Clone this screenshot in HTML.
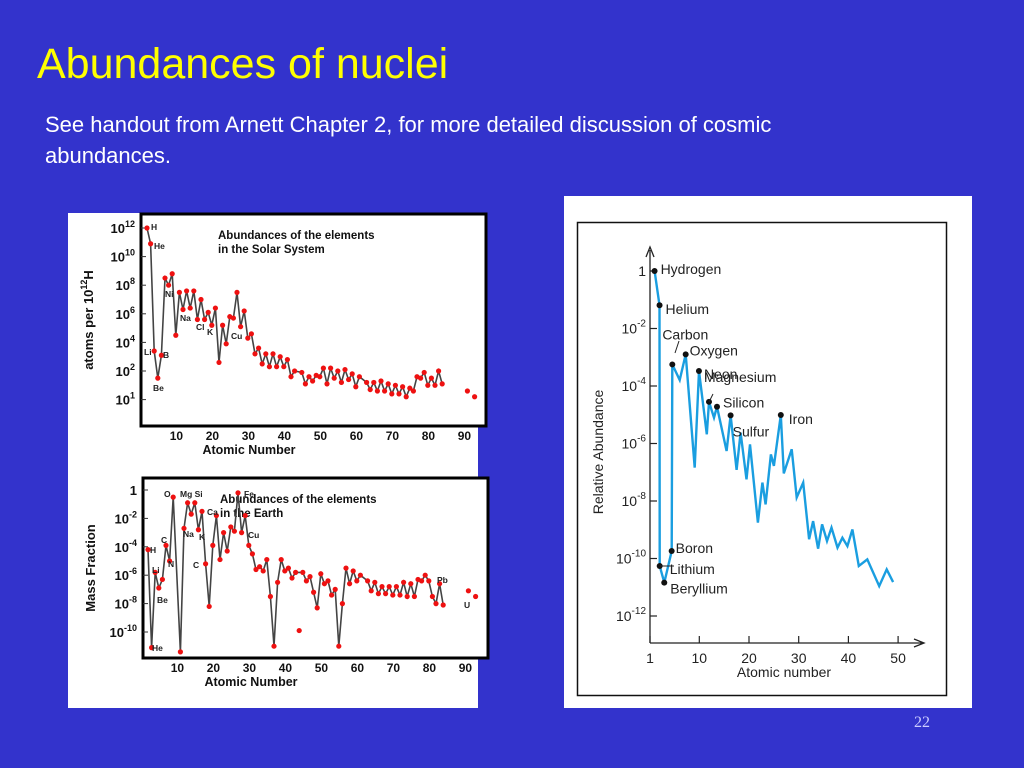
<!DOCTYPE html>
<html><head><meta charset="utf-8"><style>
html,body{margin:0;padding:0;background:#3333cc;}
svg{display:block;font-family:"Liberation Sans",sans-serif;}
</style></head><body>
<svg id="s" width="1024" height="768" viewBox="0 0 1024 768">
<rect width="1024" height="768" fill="#3333cc"/>
<text x="37" y="78" font-size="43" fill="#ffff00">Abundances of nuclei</text>
<text x="45" y="132" font-size="22" fill="#fff">See handout from Arnett Chapter 2, for more detailed discussion of cosmic</text>
<text x="45" y="163" font-size="22" fill="#fff">abundances.</text>
<text x="914" y="727" font-size="16" fill="#ccccff" font-family="Liberation Serif,serif">22</text>

<rect x="68" y="213" width="410" height="495" fill="#fff"/>
<g id="solar"></g>
<g id="earth"></g>

<rect x="564" y="196" width="408" height="512" fill="#fff"/>
<rect x="577.5" y="222.5" width="369" height="473" fill="none" stroke="#111" stroke-width="1.5"/>
<g id="rel"></g>
</svg>
<script>
const NS="http://www.w3.org/2000/svg";
function mk(p,tag,at,txt){const e=document.createElementNS(NS,tag);for(const k in at)e.setAttribute(k,at[k]);if(txt!==undefined)e.textContent=txt;p.appendChild(e);return e;}

/* ---------- Solar system chart data ---------- */
const solarZ=[1,2,3,4,5,6,7,8,9,10,11,12,13,14,15,16,17,18,19,20,21,22,23,24,25,26,27,28,29,30,31,32,33,34,35,36,37,38,39,40,41,42,44,45,46,47,48,49,50,51,52,53,54,55,56,57,58,59,60,62,63,64,65,66,67,68,69,70,71,72,73,74,75,76,77,78,79,80,81,82,83];
const solarLog=[12,10.9,3.4,1.5,3.1,8.5,8.0,8.8,4.5,7.5,6.3,7.6,6.4,7.6,5.6,7.0,5.6,6.1,5.2,6.4,2.6,5.2,3.9,5.8,5.7,7.5,5.1,6.2,4.3,4.6,3.2,3.6,2.5,3.2,2.3,3.2,2.3,3.0,2.3,2.8,1.6,2.0,1.9,1.1,1.6,1.3,1.7,1.6,2.2,1.1,2.2,1.5,2.0,1.2,2.1,1.4,1.8,0.9,1.6,1.2,0.7,1.2,0.6,1.3,0.6,1.1,0.4,1.0,0.4,0.9,0.2,0.8,0.6,1.6,1.5,1.9,1.0,1.5,1.0,2.0,1.1];
const solarExtraZ=[90,92];
const solarExtraLog=[0.6,0.2];
const solarTickLog=[12,10,8,6,4,2,0];
const solarTickSup=["12","10","8","6","4","2","1"];
const solarXTicks=[10,20,30,40,50,60,70,80,90];

/* ---------- Earth chart data ---------- */
const earthZ=[1,2,3,4,5,6,7,8,10,11,12,13,14,15,16,17,18,19,20,21,22,23,24,25,26,27,28,29,30,31,32,33,34,35,36,37,38,39,40,41,42,44,45,46,47,48,49,50,51,52,53,54,55,56,57,58,59,60,62,63,64,65,66,67,68,69,70,71,72,73,74,75,76,77,78,79,80,81,82,83];
const earthLog=[-4.2,-11.1,-5.8,-6.9,-6.3,-3.9,-5.0,-0.5,-11.4,-2.7,-0.9,-1.7,-0.9,-2.8,-1.5,-5.2,-8.2,-3.9,-1.8,-4.9,-3.0,-4.3,-2.6,-2.9,-0.2,-3.0,-1.8,-3.9,-4.5,-5.6,-5.4,-5.7,-4.9,-7.5,-11.0,-6.5,-4.9,-5.7,-5.5,-6.2,-5.8,-5.8,-6.4,-6.1,-7.2,-8.3,-5.9,-6.6,-6.4,-7.4,-7.0,-11.0,-8.0,-5.5,-6.6,-5.7,-6.4,-6.0,-6.4,-7.1,-6.5,-7.3,-6.8,-7.3,-6.8,-7.4,-6.8,-7.4,-6.5,-7.5,-6.6,-7.5,-6.3,-6.4,-6.0,-6.4,-7.5,-8.0,-6.6,-8.1];
const earthExtraZ=[43,90,92];
const earthExtraLog=[-9.9,-7.1,-7.5];
const earthTickLog=[0,-2,-4,-6,-8,-10];
const earthTickSup=["","-2","-4","-6","-8","-10"];
const earthXTicks=[10,20,30,40,50,60,70,80,90];

/* ---------- Relative abundance chart data ---------- */
const relZ=[1,2,2.03,2.95,4.44,4.57,6.05,7.26,9.07,9.93,11.5,11.95,12.95,13.56,15.5,16.3,17.5,18.3,19.5,20.2,21.8,22.7,23.35,24.4,25.0,26.4,27.0,28.6,29.6,30.9,32.1,32.9,33.9,34.7,35.7,36.6,37.8,38.8,39.8,40.8,42.1,43.8,46.2,47.7,49.0];
const relLog=[0,-1.19,-10.26,-10.84,-9.74,-3.25,-3.79,-2.9,-6.84,-3.48,-5.68,-4.55,-5.1,-4.72,-6.26,-5.02,-6.92,-5.62,-7.25,-6.03,-8.75,-7.36,-8.12,-6.38,-6.78,-5.01,-7.04,-6.2,-7.88,-7.36,-9.33,-8.7,-9.66,-8.81,-9.39,-8.93,-9.62,-9.28,-9.57,-8.99,-10.26,-10.03,-10.96,-10.38,-10.82];
const relLabelIdx=[0,1,2,3,4,5,7,9,11,13,15,25];
const relLabels=["Hydrogen","Helium","Lithium","Beryllium","Boron","Carbon","Oxygen","Neon","Magnesium","Silicon","Sulfur","Iron"];
const relTickLog=[0,-2,-4,-6,-8,-10,-12];
const relTickSup=["","-2","-4","-6","-8","-10","-12"];
const relXTicks=[1,10,20,30,40,50];

/* ---------- draw left charts ---------- */
function drawLeft(g,o){
  const X=z=>o.x0+(z-1)*o.dx, Y=l=>o.y0+(o.top-l)*o.dy;
  mk(g,'rect',{x:o.fx,y:o.fy,width:o.fw,height:o.fh,fill:'#fff',stroke:'#000','stroke-width':3,});
  o.tickLog.forEach((l,i)=>{
    const y=Y(l)+(o.tickAdj?o.tickAdj[i]:0);
    const t=mk(g,'text',{x:o.fx-6,y:y+5,'font-size':13,'font-weight':'bold','text-anchor':'end',fill:'#111'});
    
    
    if(o.tickSup[i]===""){t.textContent="1";}
    else{t.textContent="10";const s=mk(t,'tspan',{dy:-6,'font-size':9},o.tickSup[i]);}
    mk(g,'line',{x1:o.fx,x2:o.fx+5,y1:y,y2:y,stroke:'#333','stroke-width':1});
  });
  o.xTicks.forEach(z=>{
    const t=mk(g,'text',{x:X(z)-3,y:o.fy+o.fh+14,'font-size':12,'font-weight':'bold','text-anchor':'middle',fill:'#111'},String(z));
    
    
  });
  const xt=mk(g,'text',{x:o.fx+108,y:o.fy+o.fh+28,'font-size':12.5,'font-weight':'bold','text-anchor':'middle',fill:'#111'},'Atomic Number');
  
  
  const yt=mk(g,'text',{x:0,y:0,'font-size':13,'font-weight':'bold','text-anchor':'middle',fill:'#111',transform:`translate(${o.fx-48},${o.fy+o.fh/2}) rotate(-90)`});
  
  
  yt.textContent=o.ytitle;
  if(o.ysup){mk(yt,'tspan',{dy:-6,'font-size':9},o.ysup);mk(yt,'tspan',{dy:6},'H');}
  const tl=mk(g,'text',{x:o.fx+77,y:o.fy+25,'font-size':11.5,'font-weight':'bold',fill:'#111'},'Abundances of the elements');
  
  
  mk(g,'text',{x:o.fx+77,y:o.fy+39,'font-size':11.5,'font-weight':'bold',fill:'#111'},o.sub);
  let d='';o.z.forEach((z,i)=>{d+=(i?'L':'M')+X(z).toFixed(1)+' '+Y(o.log[i]).toFixed(1);});
  const p=mk(g,'path',{d,fill:'none',stroke:'#444','stroke-width':1.6});
  
  
  o.z.forEach((z,i)=>{
    const c=mk(g,'circle',{cx:X(z),cy:Y(o.log[i]),r:2.6,fill:'#ee1111'});
    
    
  });
  o.ez.forEach((z,i)=>{
    const c=mk(g,'circle',{cx:X(z),cy:Y(o.elog[i]),r:2.6,fill:'#ee1111'});
    
    
  });
  o.lbl.forEach(a=>mk(g,'text',{x:a[0],y:a[1],'font-size':8.5,'font-weight':'bold',fill:'#222'},a[2]));
}
const solar=document.getElementById('solar');
drawLeft(solar,{name:'solar',fx:141,fy:214,fw:345,fh:212,x0:147,dx:3.6,y0:228,top:12,dy:14.3,
  tickLog:solarTickLog,tickSup:solarTickSup,tickAdj:[0,0,0,0,0,0,0],xTicks:solarXTicks,
  ytitle:'atoms per 10',ysup:'12',sub:'in the Solar System',z:solarZ,log:solarLog,ez:solarExtraZ,elog:solarExtraLog,
  lbl:[[151,230,'H'],[154,249,'He'],[144,355,'Li'],[163,358,'B'],[153,391,'Be'],[165,297,'Ni'],[180,321,'Na'],[196,330,'Cl'],[207,335,'K'],[231,339,'Cu']]});
const earth=document.getElementById('earth');
drawLeft(earth,{name:'earth',fx:143,fy:478,fw:345,fh:180,x0:148,dx:3.6,y0:490,top:0,dy:14.2,
  tickLog:earthTickLog,tickSup:earthTickSup,xTicks:earthXTicks,
  ytitle:'Mass Fraction',sub:'in the Earth',z:earthZ,log:earthLog,ez:earthExtraZ,elog:earthExtraLog,
  lbl:[[150,553,'H'],[152,651,'He'],[152,573,'Li'],[157,603,'Be'],[161,543,'C'],[168,567,'N'],[164,497,'O'],[180,497,'Mg Si'],[183,537,'Na'],[207,515,'Ca'],[199,540,'K'],[193,568,'C'],[244,497,'Fe'],[248,538,'Cu'],[437,583,'Pb'],[464,608,'U']]});

/* ---------- draw right chart ---------- */
const rel=document.getElementById('rel');
const RX=z=>749+(z-20)*4.97, RY=l=>271-l*28.75;
mk(rel,'path',{d:'M650 643 L650 250 M646 257 L650 247 L654 257',fill:'none',stroke:'#222','stroke-width':1.3,});
mk(rel,'path',{d:'M650 643 L923 643 M914 639 L924 643 L914 647',fill:'none',stroke:'#222','stroke-width':1.3,});
relTickLog.forEach((l,i)=>{
  const y=RY(l);
  mk(rel,'line',{x1:650,x2:657,y1:y,y2:y,stroke:'#222','stroke-width':1.2});
  const t=mk(rel,'text',{x:646,y:y+5,'font-size':14,'text-anchor':'end',fill:'#222'});
  
  
  if(relTickSup[i]===""){t.textContent="1";}else{t.textContent="10";mk(t,'tspan',{dy:-7,'font-size':10},relTickSup[i]);}
});
relXTicks.forEach(z=>{
  const x=z===1?650:RX(z);
  mk(rel,'line',{x1:x,x2:x,y1:636,y2:643,stroke:'#222','stroke-width':1.2});
  const t=mk(rel,'text',{x:x,y:663,'font-size':14,'text-anchor':'middle',fill:'#222'},String(z));
  
  
});
const rxt=mk(rel,'text',{x:784,y:677,'font-size':14,'text-anchor':'middle',fill:'#222'},'Atomic number');


const ryt=mk(rel,'text',{x:0,y:0,'font-size':14,'text-anchor':'middle',fill:'#222',transform:'translate(603,452) rotate(-90)'},'Relative Abundance');


let rd='';relZ.forEach((z,i)=>{rd+=(i?'L':'M')+RX(z).toFixed(1)+' '+RY(relLog[i]).toFixed(1);});
const rl=mk(rel,'path',{d:rd,fill:'none',stroke:'#1a9ee0','stroke-width':2.4,'stroke-linejoin':'miter'});


const lblOff=[[6,-2],[6,4],[10,3],[6,6],[4,-3],[-10,-30],[4,-4],[5,3],[-5,-25],[6,-4],[2,16],[8,4]];
relLabelIdx.forEach((idx,k)=>{
  const x=RX(relZ[idx]),y=RY(relLog[idx]);
  const c=mk(rel,'circle',{cx:x,cy:y,r:3,fill:'#111'});
  
  
  const t=mk(rel,'text',{x:x+lblOff[k][0],y:y+lblOff[k][1]+5,'font-size':14,fill:'#222'},relLabels[k]);
  
  
});
mk(rel,'line',{x1:675,x2:679,y1:353,y2:341,stroke:'#222'});
mk(rel,'line',{x1:660,x2:674,y1:566,y2:566,stroke:'#222'});
mk(rel,'line',{x1:709,x2:713,y1:402,y2:394,stroke:'#222'});
</script>
</body></html>
